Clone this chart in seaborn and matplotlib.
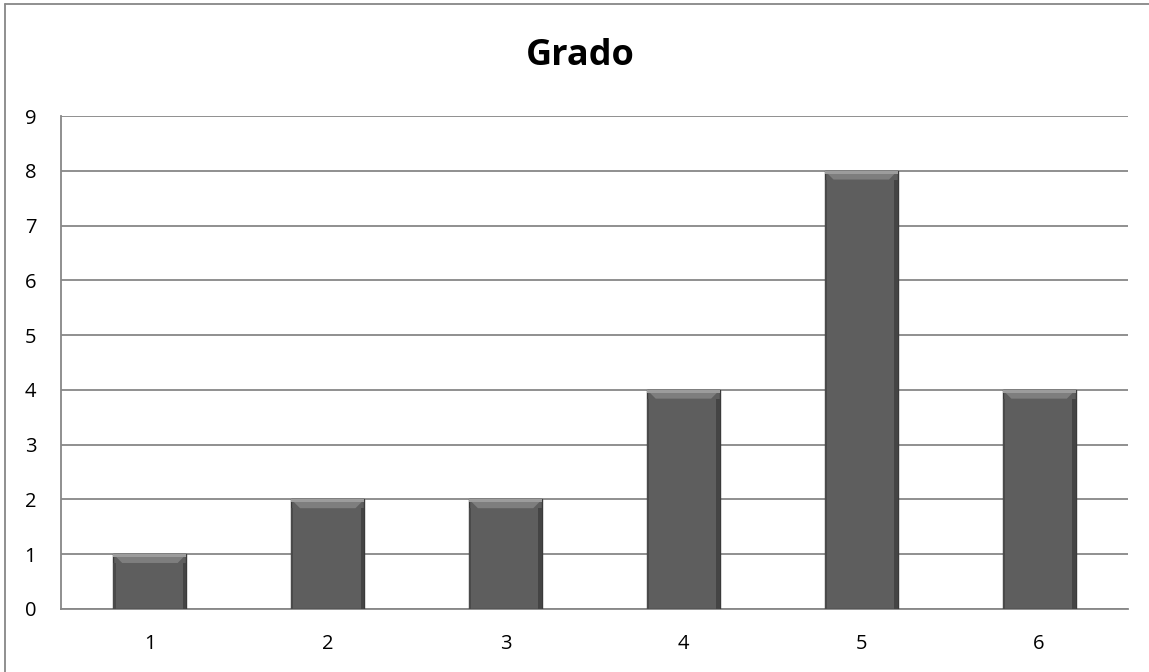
import matplotlib
matplotlib.use("Agg")
import matplotlib.pyplot as plt
from matplotlib.lines import Line2D
from matplotlib.patches import Rectangle, Polygon
import seaborn as sns
import pandas as pd

categories = ["1", "2", "3", "4", "5", "6"]
values = [1, 2, 2, 4, 8, 4]
y_ticks = [0, 1, 2, 3, 4, 5, 6, 7, 8, 9]
title = "Grado"

sns.set_theme(style="white")
plt.rcParams["font.family"] = ["Open Sans", "DejaVu Sans"]
plt.rcParams["text.color"] = "black"

df = pd.DataFrame({"cat": categories, "val": values})

fig = plt.figure(figsize=(11.49, 6.72), dpi=100)
ax = fig.add_axes([61 / 1149, 1 - 609 / 672, (1128 - 61) / 1149, (609 - 116) / 672])

grid_c = "#878787"
ax.set_axisbelow(True)
ax.yaxis.grid(True, color=grid_c, linewidth=1.3)

sns.barplot(data=df, x="cat", y="val", ax=ax, color="#5e5e5e", width=0.41,
            saturation=1, edgecolor="#3a3a3a", linewidth=1.0, zorder=3)

# bevel: light slanted band along the top, thin darker sides
for p in list(ax.patches):
    x0, w, h = p.get_x(), p.get_width(), p.get_height()
    dx, dy = w * 0.12, 0.16
    ax.add_patch(Polygon([(x0, h), (x0 + w, h), (x0 + w - dx, h - dy), (x0 + dx, h - dy)],
                         closed=True, facecolor="#7e7e7e", edgecolor="none", zorder=4))
    ax.add_patch(Rectangle((x0, h - 0.05), w, 0.05, facecolor="#9c9c9c",
                           edgecolor="none", zorder=4))
    ax.add_patch(Rectangle((x0 + w * 0.95, 0), w * 0.05, h - dy, facecolor="#444444",
                           edgecolor="none", zorder=4))
    ax.add_patch(Rectangle((x0, 0), w * 0.03, h - dy, facecolor="#4a4a4a",
                           edgecolor="none", zorder=4))

ax.set_ylim(0, 9)
ax.set_xlim(-0.5, len(categories) - 0.5)
ax.set_yticks(y_ticks)
ax.set_xlabel("")
ax.set_ylabel("")
ax.tick_params(axis="both", length=0, labelsize=14.5, colors="black")
ax.tick_params(axis="x", pad=18)
ax.tick_params(axis="y", pad=22)
for lab in ax.get_yticklabels():
    lab.set_horizontalalignment("center")

for s in ["top", "right"]:
    ax.spines[s].set_visible(False)
for s in ["left", "bottom"]:
    ax.spines[s].set_color(grid_c)
    ax.spines[s].set_linewidth(1.3)

fig.text(580 / 1149, 1 - 56 / 672, title, ha="center", va="center",
         fontsize=26, fontweight="bold", color="black")

# outer chart frame
fig.add_artist(Line2D([5 / 1149, 1], [1 - 4 / 672, 1 - 4 / 672], color=grid_c, lw=1.3,
                      transform=fig.transFigure))
fig.add_artist(Line2D([5 / 1149, 5 / 1149], [0, 1 - 4 / 672], color=grid_c, lw=1.3,
                      transform=fig.transFigure))

fig.savefig("out.png", dpi=100)
